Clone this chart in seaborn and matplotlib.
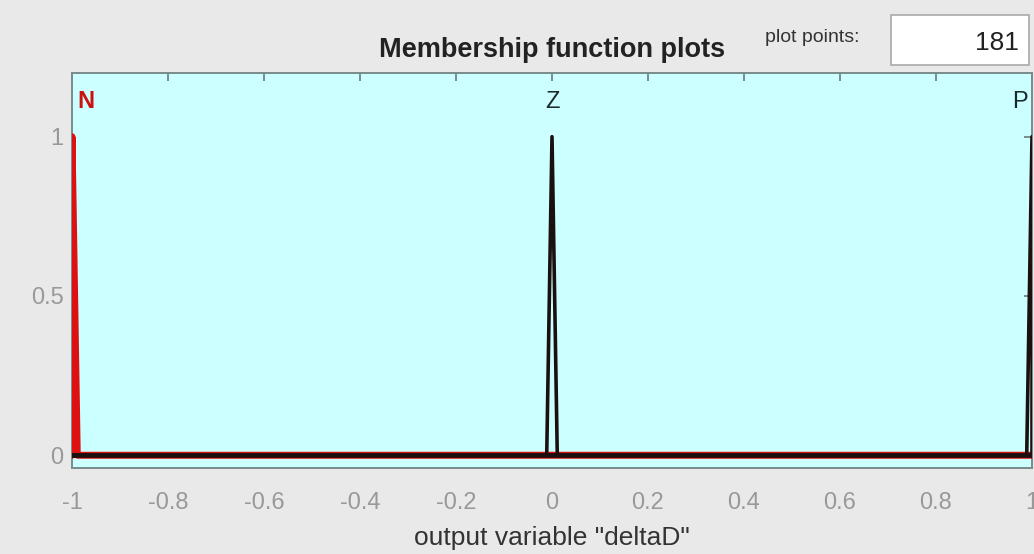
import matplotlib
matplotlib.use("Agg")
import matplotlib.pyplot as plt
import seaborn as sns
import pandas as pd
from matplotlib.patches import Rectangle

# Data: membership functions of output variable "deltaD"
n_x = [-1.0, -1.0, -0.989, 1.0]
n_y = [0.0, 1.0, 0.0, 0.0]
z_x = [-1.0, -0.011, 0.0, 0.011, 1.0]
z_y = [0.0, 0.0, 1.0, 0.0, 0.0]
p_x = [-1.0, 0.989, 1.0, 1.0]
p_y = [0.0, 0.0, 1.0, 0.0]
mf_names = ["N", "Z", "P"]
label_x = [-0.97, 0.0, 0.975]
label_y = [1.11, 1.11, 1.11]
x_ticks = [-1, -0.8, -0.6, -0.4, -0.2, 0, 0.2, 0.4, 0.6, 0.8, 1]
x_ticklabels = ["-1", "-0.8", "-0.6", "-0.4", "-0.2", "0", "0.2", "0.4", "0.6", "0.8", "1"]
y_ticks = [0, 0.5, 1]
y_ticklabels = ["0", "0.5", "1"]
plot_points = 181

sns.set_style("white")
plt.rcParams["font.family"] = ["Liberation Sans", "DejaVu Sans"]

fig = plt.figure(figsize=(10.34, 5.54), dpi=100, facecolor="#e9e9e9")
ax = fig.add_axes([72 / 1034, 86 / 554, 960 / 1034, 395 / 554])
ax.set_facecolor("#ccffff")

df_n = pd.DataFrame({"x": n_x, "y": n_y})
df_z = pd.DataFrame({"x": z_x, "y": z_y})
df_p = pd.DataFrame({"x": p_x, "y": p_y})

sns.lineplot(data=df_n, x="x", y="y", sort=False, estimator=None, ax=ax,
             color="#dd1111", linewidth=5, zorder=3)
sns.lineplot(data=df_z, x="x", y="y", sort=False, estimator=None, ax=ax,
             color="#1a1010", linewidth=2.6, zorder=4)
sns.lineplot(data=df_p, x="x", y="y", sort=False, estimator=None, ax=ax,
             color="#1a1010", linewidth=2.6, zorder=4)
# darken the shared zero baseline where all functions overlap
ax.axhline(0, color="#4a0606", linewidth=3.6, zorder=3.5)

colors = ["#cc1111", "#1a2a2a", "#1a2a2a"]
weights = ["bold", "normal", "normal"]
for name, lx, ly, c, w in zip(mf_names, label_x, label_y, colors, weights):
    ax.text(lx, ly, name, color=c, fontsize=17, fontweight=w,
            ha="center", va="center", zorder=5)

ax.set_xlim(-1, 1)
ax.set_ylim(-0.04, 1.2)
ax.set_xticks(x_ticks)
ax.set_xticklabels(x_ticklabels)
ax.set_yticks(y_ticks)
ax.set_yticklabels(y_ticklabels)
ax.tick_params(axis="both", direction="in", length=6, width=1.2, colors="#6a7a7a",
               labelcolor="#999999", labelsize=17, top=True, right=True)
ax.tick_params(axis="x", pad=17)
ax.tick_params(axis="y", pad=6)
for s in ax.spines.values():
    s.set_color("#7a8a8a")
    s.set_linewidth(1.4)

ax.set_xlabel('output variable "deltaD"', fontsize=19, color="#333333", labelpad=9)
ax.set_ylabel("")

fig.text(552 / 1034, 1 - 50 / 554, "Membership function plots", fontsize=19.5,
         fontweight="bold", color="#222222", ha="center", va="center")
fig.text(812 / 1034, 1 - 37 / 554, "plot points:", fontsize=14,
         color="#333333", ha="center", va="center")
box = Rectangle((891 / 1034, 1 - 65 / 554), 138 / 1034, 50 / 554,
                transform=fig.transFigure, facecolor="white",
                edgecolor="#aaaaaa", linewidth=1.2)
fig.patches.append(box)
fig.text(1019 / 1034, 1 - 43 / 554, str(plot_points), fontsize=19,
         color="#222222", ha="right", va="center")

fig.savefig("out.png", dpi=100, facecolor=fig.get_facecolor())
